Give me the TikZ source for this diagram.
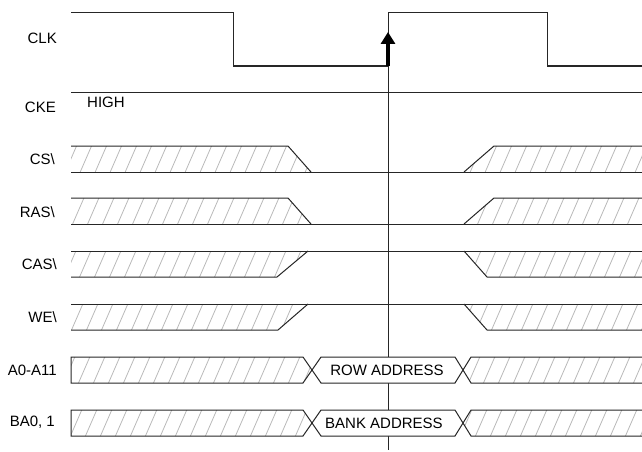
\documentclass[tikz,border=0pt]{standalone}
\usepackage{fontspec}
\setmainfont{Liberation Sans}
\usetikzlibrary{arrows.meta}
\newcommand\hatchpoly[1]{%
  \begin{scope}
    \clip #1;
    \foreach \hx in {-225,-210,...,660} \draw[hatchline] (\hx,460) -- ++(200,-460);
  \end{scope}}
\begin{document}
\begin{tikzpicture}[x=1pt,y=-1pt,
  sig/.style={line width=1pt, draw=black!85},
  hatchline/.style={draw=gray!55, line width=0.8pt},
  lbl/.style={anchor=east, inner sep=0pt, font=\fontsize{15}{18}\selectfont},
  boxtxt/.style={inner sep=0pt, font=\fontsize{15}{18}\selectfont}]
\useasboundingbox (0,0) rectangle (642,452);

% labels
\node[lbl] (lclk) at (57,38) {CLK};
\node[lbl] (lcke) at (56,107) {CKE};
\node[lbl] (lcs)  at (55,159) {CS\textbackslash};
\node[lbl] (lras) at (55,212) {RAS\textbackslash};
\node[lbl] (lcas) at (57,264) {CAS\textbackslash};
\node[lbl] (lwe)  at (57,317) {WE\textbackslash};
\node[lbl] (la)   at (57,370) {A0-A11};
\node[lbl] (lba)  at (55,422) {BA0, 1};

% CLK
\draw[sig] (71,13) -- (233,13) -- (233,66) -- (388,66) -- (388,13) -- (547,13) -- (547,66) -- (642,66);
% CKE
\draw[sig] (71,92) -- (642,92);
\node[boxtxt, anchor=west] (high) at (87,102) {HIGH};

% vertical reference line
\draw[sig] (388,13) -- (388,450);

% CS
\hatchpoly{(71,146) -- (288,146) -- (311,172) -- (71,172) -- cycle}
\hatchpoly{(464,172) -- (494,146) -- (642,146) -- (642,172) -- cycle}
\draw[sig] (71,146) -- (288,146) -- (311,172);
\draw[sig] (71,172) -- (642,172);
\draw[sig] (464,172) -- (494,146) -- (642,146);

% RAS
\hatchpoly{(71,198) -- (288,198) -- (311,224) -- (71,224) -- cycle}
\hatchpoly{(464,224) -- (494,198) -- (642,198) -- (642,224) -- cycle}
\draw[sig] (71,198) -- (288,198) -- (311,224);
\draw[sig] (71,224) -- (642,224);
\draw[sig] (464,224) -- (494,198) -- (642,198);

% CAS
\hatchpoly{(71,251) -- (308,251) -- (277,277) -- (71,277) -- cycle}
\hatchpoly{(464,251) -- (642,251) -- (642,277) -- (487,277) -- cycle}
\draw[sig] (71,251) -- (642,251);
\draw[sig] (71,277) -- (277,277) -- (308,251);
\draw[sig] (464,251) -- (487,277) -- (642,277);

% WE
\hatchpoly{(71,304) -- (308,304) -- (278,330) -- (71,330) -- cycle}
\hatchpoly{(464,304) -- (642,304) -- (642,330) -- (487,330) -- cycle}
\draw[sig] (71,304) -- (642,304);
\draw[sig] (71,330) -- (278,330) -- (308,304);
\draw[sig] (464,304) -- (487,330) -- (642,330);

% A0-A11
\hatchpoly{(71,357) -- (303,357) -- (312,370) -- (303,383) -- (71,383) -- cycle}
\draw[sig] (71,357) -- (303,357) -- (312,370) -- (303,383) -- (71,383) -- cycle;
\filldraw[sig, fill=white] (312,370) -- (321,357) -- (455,357) -- (463,370) -- (455,383) -- (321,383) -- cycle;
\node[boxtxt] (row) at (387,370) {ROW ADDRESS};
\hatchpoly{(463,370) -- (471,357) -- (642,357) -- (642,383) -- (471,383) -- cycle}
\draw[sig] (642,357) -- (471,357) -- (463,370) -- (471,383) -- (642,383);

% BA0,1
\hatchpoly{(71,410) -- (303,410) -- (312,423) -- (303,436) -- (71,436) -- cycle}
\draw[sig] (71,410) -- (303,410) -- (312,423) -- (303,436) -- (71,436) -- cycle;
\filldraw[sig, fill=white] (312,423) -- (321,410) -- (455,410) -- (463,423) -- (455,436) -- (321,436) -- cycle;
\node[boxtxt] (bank) at (384,423) {BANK ADDRESS};
\hatchpoly{(463,423) -- (471,410) -- (642,410) -- (642,436) -- (471,436) -- cycle}
\draw[sig] (642,410) -- (471,410) -- (463,423) -- (471,436) -- (642,436);

% clock edge arrow
\draw[line width=3.5pt, draw=black, -{Triangle[width=14pt,length=12pt]}] (388,66) -- (388,32);
\end{tikzpicture}
\end{document}
